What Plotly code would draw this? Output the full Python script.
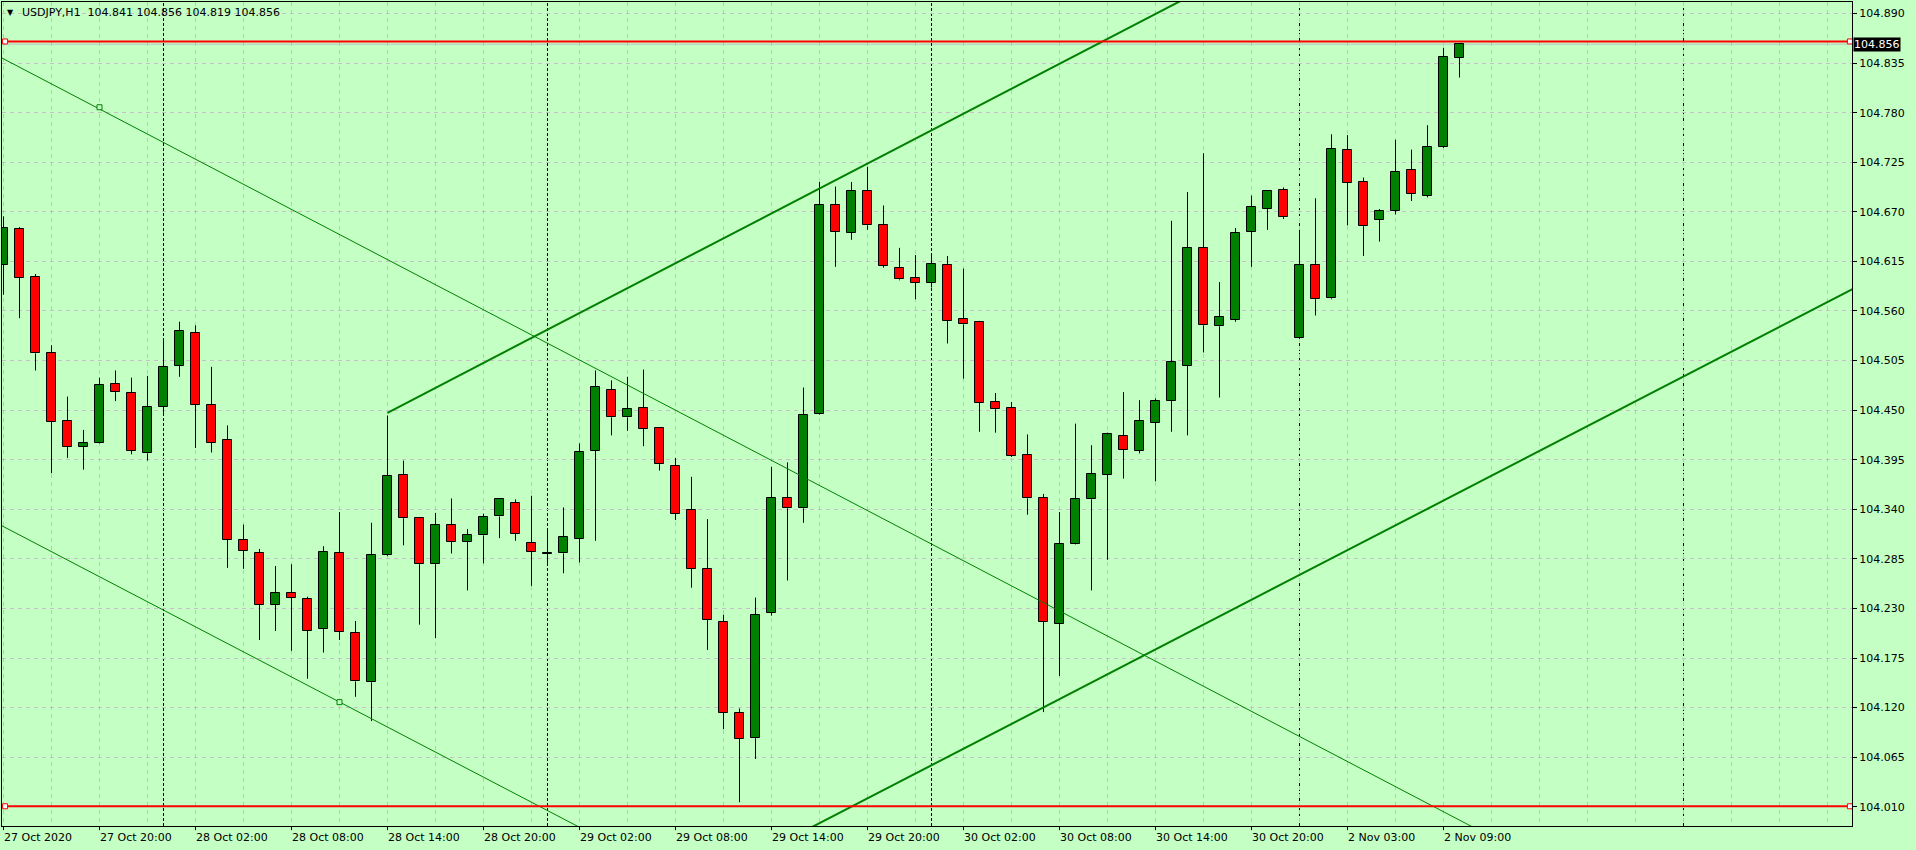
import plotly.graph_objects as go

# ---------------- data ----------------
symbol = "USDJPY,H1"

# hourly bars, bar 0 = 27 Oct 2020 14:00 (MT4 chart, no weekend gap)
open_ = [104.611, 104.651, 104.598, 104.513, 104.438, 104.409, 104.414, 104.479, 104.469, 104.402,
         104.454, 104.499, 104.536, 104.456, 104.417, 104.306, 104.292, 104.234, 104.247, 104.240,
         104.207, 104.292, 104.203, 104.148, 104.289, 104.378, 104.330, 104.279, 104.322, 104.304,
         104.311, 104.332, 104.347, 104.303, 104.291, 104.291, 104.307, 104.405, 104.472, 104.442,
         104.452, 104.430, 104.388, 104.339, 104.274, 104.215, 104.114, 104.086, 104.225, 104.352,
         104.341, 104.446, 104.678, 104.647, 104.693, 104.655, 104.608, 104.597, 104.591, 104.611,
         104.551, 104.548, 104.459, 104.452, 104.400, 104.353, 104.213, 104.302, 104.351, 104.378,
         104.421, 104.405, 104.436, 104.460, 104.499, 104.630, 104.543, 104.550, 104.648, 104.673,
         104.694, 104.530, 104.611, 104.574, 104.739, 104.703, 104.661, 104.671, 104.716, 104.688,
         104.742, 104.841]
high = [104.665, 104.653, 104.601, 104.522, 104.465, 104.428, 104.486, 104.494, 104.486, 104.488,
        104.529, 104.548, 104.544, 104.498, 104.433, 104.323, 104.296, 104.277, 104.279, 104.243,
        104.299, 104.337, 104.216, 104.325, 104.444, 104.394, 104.331, 104.336, 104.352, 104.318,
        104.335, 104.351, 104.351, 104.355, 104.317, 104.342, 104.413, 104.494, 104.483, 104.487,
        104.495, 104.431, 104.397, 104.376, 104.329, 104.223, 104.119, 104.242, 104.387, 104.392,
        104.475, 104.703, 104.698, 104.703, 104.720, 104.677, 104.630, 104.622, 104.623, 104.621,
        104.607, 104.549, 104.469, 104.459, 104.423, 104.357, 104.337, 104.435, 104.411, 104.425,
        104.470, 104.461, 104.463, 104.660, 104.692, 104.735, 104.592, 104.652, 104.688, 104.693,
        104.697, 104.650, 104.685, 104.756, 104.755, 104.708, 104.673, 104.750, 104.739, 104.766,
        104.852, 104.856]
low = [104.578, 104.552, 104.494, 104.380, 104.397, 104.384, 104.413, 104.460, 104.401, 104.394,
       104.447, 104.487, 104.408, 104.403, 104.275, 104.274, 104.195, 104.205, 104.183, 104.152,
       104.181, 104.195, 104.132, 104.105, 104.288, 104.300, 104.212, 104.197, 104.291, 104.250,
       104.280, 104.308, 104.305, 104.255, 104.278, 104.269, 104.281, 104.305, 104.422, 104.427,
       104.410, 104.383, 104.328, 104.253, 104.184, 104.096, 104.015, 104.063, 104.222, 104.261,
       104.325, 104.445, 104.609, 104.639, 104.650, 104.608, 104.594, 104.573, 104.586, 104.524,
       104.485, 104.426, 104.425, 104.398, 104.334, 104.115, 104.155, 104.301, 104.250, 104.284,
       104.374, 104.402, 104.371, 104.426, 104.422, 104.514, 104.464, 104.548, 104.609, 104.650,
       104.662, 104.529, 104.555, 104.573, 104.655, 104.621, 104.637, 104.667, 104.682, 104.686,
       104.741, 104.819]
close = [104.652, 104.597, 104.513, 104.437, 104.409, 104.413, 104.478, 104.470, 104.405, 104.453,
         104.498, 104.538, 104.456, 104.414, 104.306, 104.294, 104.234, 104.247, 104.242, 104.205,
         104.293, 104.204, 104.149, 104.289, 104.377, 104.330, 104.279, 104.323, 104.304, 104.312,
         104.331, 104.351, 104.313, 104.293, 104.290, 104.309, 104.403, 104.476, 104.442, 104.451,
         104.429, 104.390, 104.335, 104.274, 104.217, 104.114, 104.085, 104.223, 104.353, 104.341,
         104.445, 104.678, 104.648, 104.693, 104.655, 104.610, 104.595, 104.591, 104.612, 104.549,
         104.545, 104.458, 104.451, 104.399, 104.352, 104.215, 104.302, 104.351, 104.379, 104.423,
         104.406, 104.438, 104.460, 104.503, 104.630, 104.544, 104.553, 104.647, 104.675, 104.693,
         104.664, 104.611, 104.573, 104.740, 104.702, 104.654, 104.671, 104.714, 104.690, 104.742,
         104.842, 104.856]

x_label_bars = [0, 6, 12, 18, 24, 30, 36, 42, 48, 54, 60, 66, 72, 78, 84, 90]
x_labels = ["27 Oct 2020", "27 Oct 20:00", "28 Oct 02:00", "28 Oct 08:00", "28 Oct 14:00",
            "28 Oct 20:00", "29 Oct 02:00", "29 Oct 08:00", "29 Oct 14:00", "29 Oct 20:00",
            "30 Oct 02:00", "30 Oct 08:00", "30 Oct 14:00", "30 Oct 20:00", "2 Nov 03:00",
            "2 Nov 09:00"]
day_separator_bars = [10, 34, 58, 81, 105]
y_tick_values = [104.010, 104.065, 104.120, 104.175, 104.230, 104.285, 104.340, 104.395, 104.450,
                 104.505, 104.560, 104.615, 104.670, 104.725, 104.780, 104.835, 104.890]

# horizontal levels (red) and bid line
level_prices = [104.859, 104.0105]
level_bars = [0.1, 115.4]
bid_price = close[-1]

# trend lines as (bar, price) end points
thin_upper_bars = [-1, 120]
thin_upper_prices = [104.849, 103.726]
thin_lower_bars = [-1, 120]
thin_lower_prices = [104.330, 103.209]
thin_anchor_bars = [6, 21]
thin_anchor_prices = [104.786, 104.126]
thick_upper_bars = [24, 120]
thick_upper_prices = [104.447, 105.332]
thick_lower_bars = [24, 120]
thick_lower_prices = [103.744, 104.625]

# ---------------- style ----------------
BG = "rgb(196,255,196)"
GRID = "rgb(200,190,200)"
UP = "#008000"
DOWN = "#ff0000"
FONT = "DejaVu Sans"

n = len(close)
bars = list(range(n))

fig = go.Figure()

# wicks (drawn above/below body only)
wx, wy = [], []
for i in bars:
    top = max(open_[i], close[i])
    bot = min(open_[i], close[i])
    wx += [i, i, None, i, i, None]
    wy += [high[i], top, None, bot, low[i], None]
fig.add_trace(go.Scatter(x=wx, y=wy, mode="lines", line=dict(color="black", width=1),
                         hoverinfo="skip", showlegend=False))

# bodies
fig.add_trace(go.Bar(
    x=bars,
    base=[min(o, c) for o, c in zip(open_, close)],
    y=[max(abs(c - o), 0.0008) for o, c in zip(open_, close)],
    width=0.62,
    marker=dict(color=[UP if c >= o else DOWN for o, c in zip(open_, close)],
                line=dict(color="black", width=1)),
    showlegend=False, hoverinfo="skip"))

# thin descending channel
fig.add_trace(go.Scatter(x=thin_upper_bars, y=thin_upper_prices, mode="lines",
                         line=dict(color=UP, width=1), showlegend=False, hoverinfo="skip"))
fig.add_trace(go.Scatter(x=thin_lower_bars, y=thin_lower_prices, mode="lines",
                         line=dict(color=UP, width=1), showlegend=False, hoverinfo="skip"))
fig.add_trace(go.Scatter(x=thin_anchor_bars, y=thin_anchor_prices, mode="markers",
                         marker=dict(symbol="square", size=5, color=BG, line=dict(color=UP, width=1)),
                         showlegend=False, hoverinfo="skip"))
# thick ascending channel
fig.add_trace(go.Scatter(x=thick_upper_bars, y=thick_upper_prices, mode="lines",
                         line=dict(color=UP, width=2), showlegend=False, hoverinfo="skip"))
fig.add_trace(go.Scatter(x=thick_lower_bars, y=thick_lower_prices, mode="lines",
                         line=dict(color=UP, width=2), showlegend=False, hoverinfo="skip"))

# red horizontal levels
for p in level_prices:
    fig.add_trace(go.Scatter(x=level_bars, y=[p, p], mode="lines+markers",
                             line=dict(color="red", width=2),
                             marker=dict(symbol="square", size=5, color="white",
                                         line=dict(color="red", width=1)),
                             showlegend=False, hoverinfo="skip"))

shapes = []
# bid line
shapes.append(dict(type="line", xref="paper", x0=0, x1=1, yref="y", y0=bid_price, y1=bid_price,
                   line=dict(color="rgb(192,192,192)", width=1), layer="below"))
# day separators
for b in day_separator_bars:
    shapes.append(dict(type="line", xref="x", x0=b, x1=b, yref="paper", y0=0, y1=1,
                       line=dict(color="black", width=1, dash="3px,2px"), layer="below"))
# x label tick marks
for b in x_label_bars:
    shapes.append(dict(type="line", xref="x", x0=b, x1=b, yref="paper", y0=0, y1=-0.005,
                       line=dict(color="black", width=1)))

annotations = []
for b, t in zip(x_label_bars, x_labels):
    annotations.append(dict(x=b, xref="x", y=0, yref="paper", text=t, showarrow=False,
                            xanchor="left", yanchor="top", xshift=-2, yshift=-3,
                            font=dict(family=FONT, size=11, color="black")))
# header
annotations.append(dict(x=0.00486, xref="paper", y=0.9870, yref="paper", text="\u25bc",
                        showarrow=False, xanchor="center", yanchor="middle",
                        font=dict(family=FONT, size=8, color="black")))
annotations.append(dict(x=0.0098, xref="paper", y=0.9870, yref="paper",
                        text=f"{symbol}\u00a0\u00a0{open_[-1]:.3f} {high[-1]:.3f} {low[-1]:.3f} {close[-1]:.3f}",
                        showarrow=False, xanchor="left", yanchor="middle",
                        font=dict(family=FONT, size=11, color="black")))
# bid price tag
annotations.append(dict(x=1, xref="paper", y=bid_price, yref="y", text=f"{bid_price:.3f}",
                        showarrow=False, xanchor="left", yanchor="middle", xshift=1,
                        bgcolor="black", borderpad=0,
                        font=dict(family=FONT, size=11, color="white")))

fig.update_layout(
    width=1916, height=850,
    margin=dict(l=2, r=64, t=2, b=24, pad=0),
    paper_bgcolor=BG, plot_bgcolor=BG,
    barmode="overlay", bargap=0,
    shapes=shapes, annotations=annotations,
    xaxis=dict(range=[-0.09375, 115.53125], tickvals=list(range(0, 116, 3)),
               showticklabels=False, ticks="", showgrid=True, gridcolor=GRID, gridwidth=1,
               griddash="4px,4px", zeroline=False, showline=True, linecolor="black",
               linewidth=1, mirror=True, fixedrange=True),
    yaxis=dict(range=[103.98862, 104.90276], side="right", tickvals=y_tick_values,
               ticktext=[f"{v:.3f}" for v in y_tick_values], ticks="outside", ticklen=4,
               tickcolor="black", tickfont=dict(family=FONT, size=11, color="black"),
               showgrid=True, gridcolor=GRID, gridwidth=1, griddash="4px,4px",
               zeroline=False, showline=True, linecolor="black", linewidth=1, mirror=True,
               fixedrange=True),
    hovermode=False,
)

fig.write_html("out.html", config={"displayModeBar": False},
               post_script="document.body.style.margin='0';document.body.style.overflow='hidden';")
